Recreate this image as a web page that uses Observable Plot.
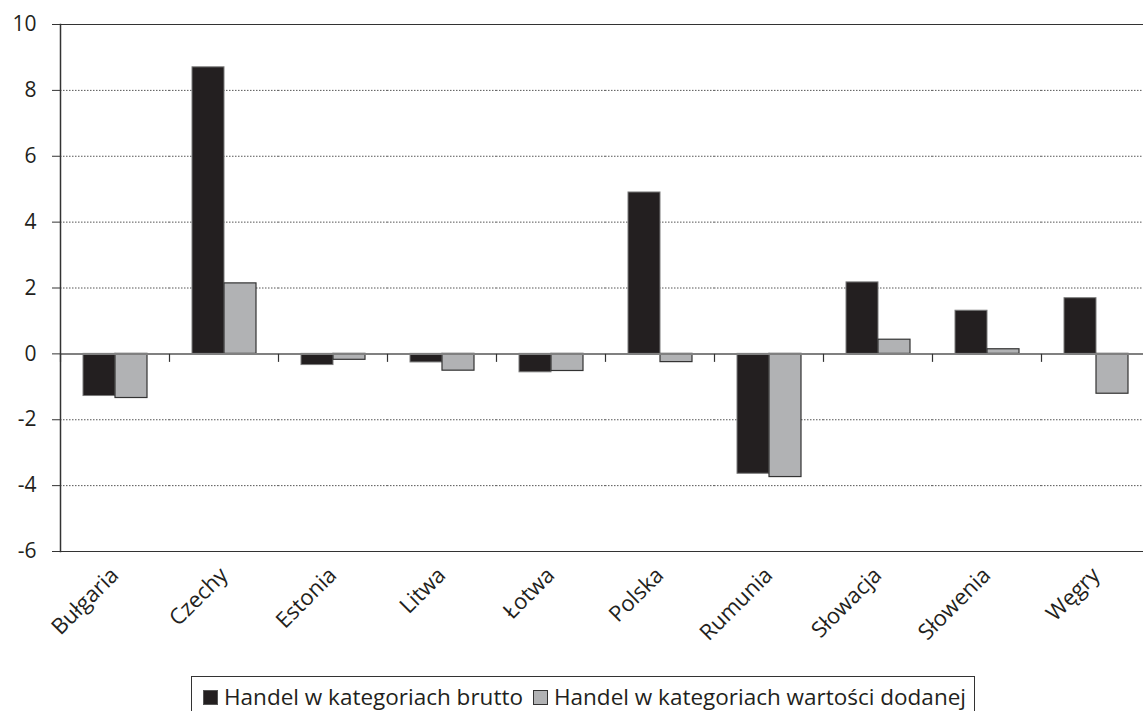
<!DOCTYPE html>
<html><head><meta charset="utf-8">
<script src="https://cdn.jsdelivr.net/npm/d3@7"></script>
<script src="https://cdn.jsdelivr.net/npm/@observablehq/plot@0.6"></script>
<style>
body{margin:0;background:#fff;font-family:"Open Sans",sans-serif;color:#231f20;}
#legend{display:inline-block;margin-left:191px;margin-top:16px;border:1px solid #333;padding:6px 8px 10px 11px;font-size:22.5px;line-height:28px;white-space:nowrap;}
.sw{display:inline-block;width:13px;height:13px;border:1px solid;margin-right:6px;vertical-align:0px;}
</style></head><body>
<div id="chart"></div>
<div id="legend"></div>
<script>
const countries = ["Bułgaria","Czechy","Estonia","Litwa","Łotwa","Polska","Rumunia","Słowacja","Słowenia","Węgry"];
const series = ["Handel w kategoriach brutto","Handel w kategoriach wartości dodanej"];
const brutto  = [-1.28, 8.7, -0.34, -0.26, -0.56, 4.9, -3.64, 2.17, 1.31, 1.69];
const wartosc = [-1.34, 2.14, -0.18, -0.51, -0.52, -0.25, -3.74, 0.43, 0.14, -1.21];
const yTicks = [-6,-4,-2,0,2,4,6,8,10];
const gridTicks = [-4,-2,2,4,6,8];
const frameTicks = [-6,10];
const seriesFill = ["#231f20","#b1b2b4"];
const seriesStroke = ["#7a7a7a","#333333"];

const data = countries.flatMap((c,i)=>[
  {country:c, series:series[0], value:brutto[i]},
  {country:c, series:series[1], value:wartosc[i]}
]);

const tickSym = {draw(ctx){ ctx.moveTo(0,0); ctx.lineTo(0,8); }};

const chart = Plot.plot({
  width:1143, height:660,
  marginLeft:60, marginRight:-7, marginTop:24, marginBottom:109,
  style:{fontFamily:"Open Sans", fontSize:"21px", color:"#231f20", background:"#fff"},
  fx:{domain:countries, padding:0, label:null, axis:null},
  x:{domain:series, paddingInner:0, paddingOuter:0.7, axis:null},
  y:{domain:[-6,10], label:null, axis:null},
  marks:[
    Plot.ruleY(gridTicks, {stroke:"#555", strokeWidth:1, strokeDasharray:"1.5,1.5"}),
    Plot.ruleY(frameTicks, {stroke:"#333", strokeWidth:1.2}),
    Plot.barY(data.filter(d=>d.series===series[0]), {fx:"country", x:"series", y:"value", fill:seriesFill[0], stroke:seriesStroke[0], strokeWidth:1}),
    Plot.barY(data.filter(d=>d.series===series[1]), {fx:"country", x:"series", y:"value", fill:seriesFill[1], stroke:seriesStroke[1], strokeWidth:1.2}),
    Plot.ruleY([0], {stroke:"#808080", strokeWidth:2}),
    Plot.dot(countries, {fx:d=>d, y:()=>0, frameAnchor:"left", symbol:tickSym, stroke:"#333", fill:"none", strokeWidth:1.2}),
    Plot.frame({anchor:"left", facetAnchor:"left", stroke:"#333", strokeWidth:1.5}),
    Plot.axisY(yTicks, {tickSize:8, tickPadding:16, fontSize:21, stroke:"#333", tickFormat:d=>String(d), label:null}),
    Plot.axisFx({anchor:"bottom", tickRotate:-45, tickSize:0, tickPadding:20, fontSize:22, label:null})
  ]
});
document.getElementById("chart").appendChild(chart);

const lg = document.getElementById("legend");
series.forEach((s,i)=>{
  const sw = document.createElement("span");
  sw.className = "sw";
  sw.style.background = seriesFill[i];
  sw.style.borderColor = i===0 ? "#555" : "#333";
  if (i>0) sw.style.marginLeft = "10px";
  lg.appendChild(sw);
  lg.appendChild(document.createTextNode(s));
});
</script>
</body></html>
